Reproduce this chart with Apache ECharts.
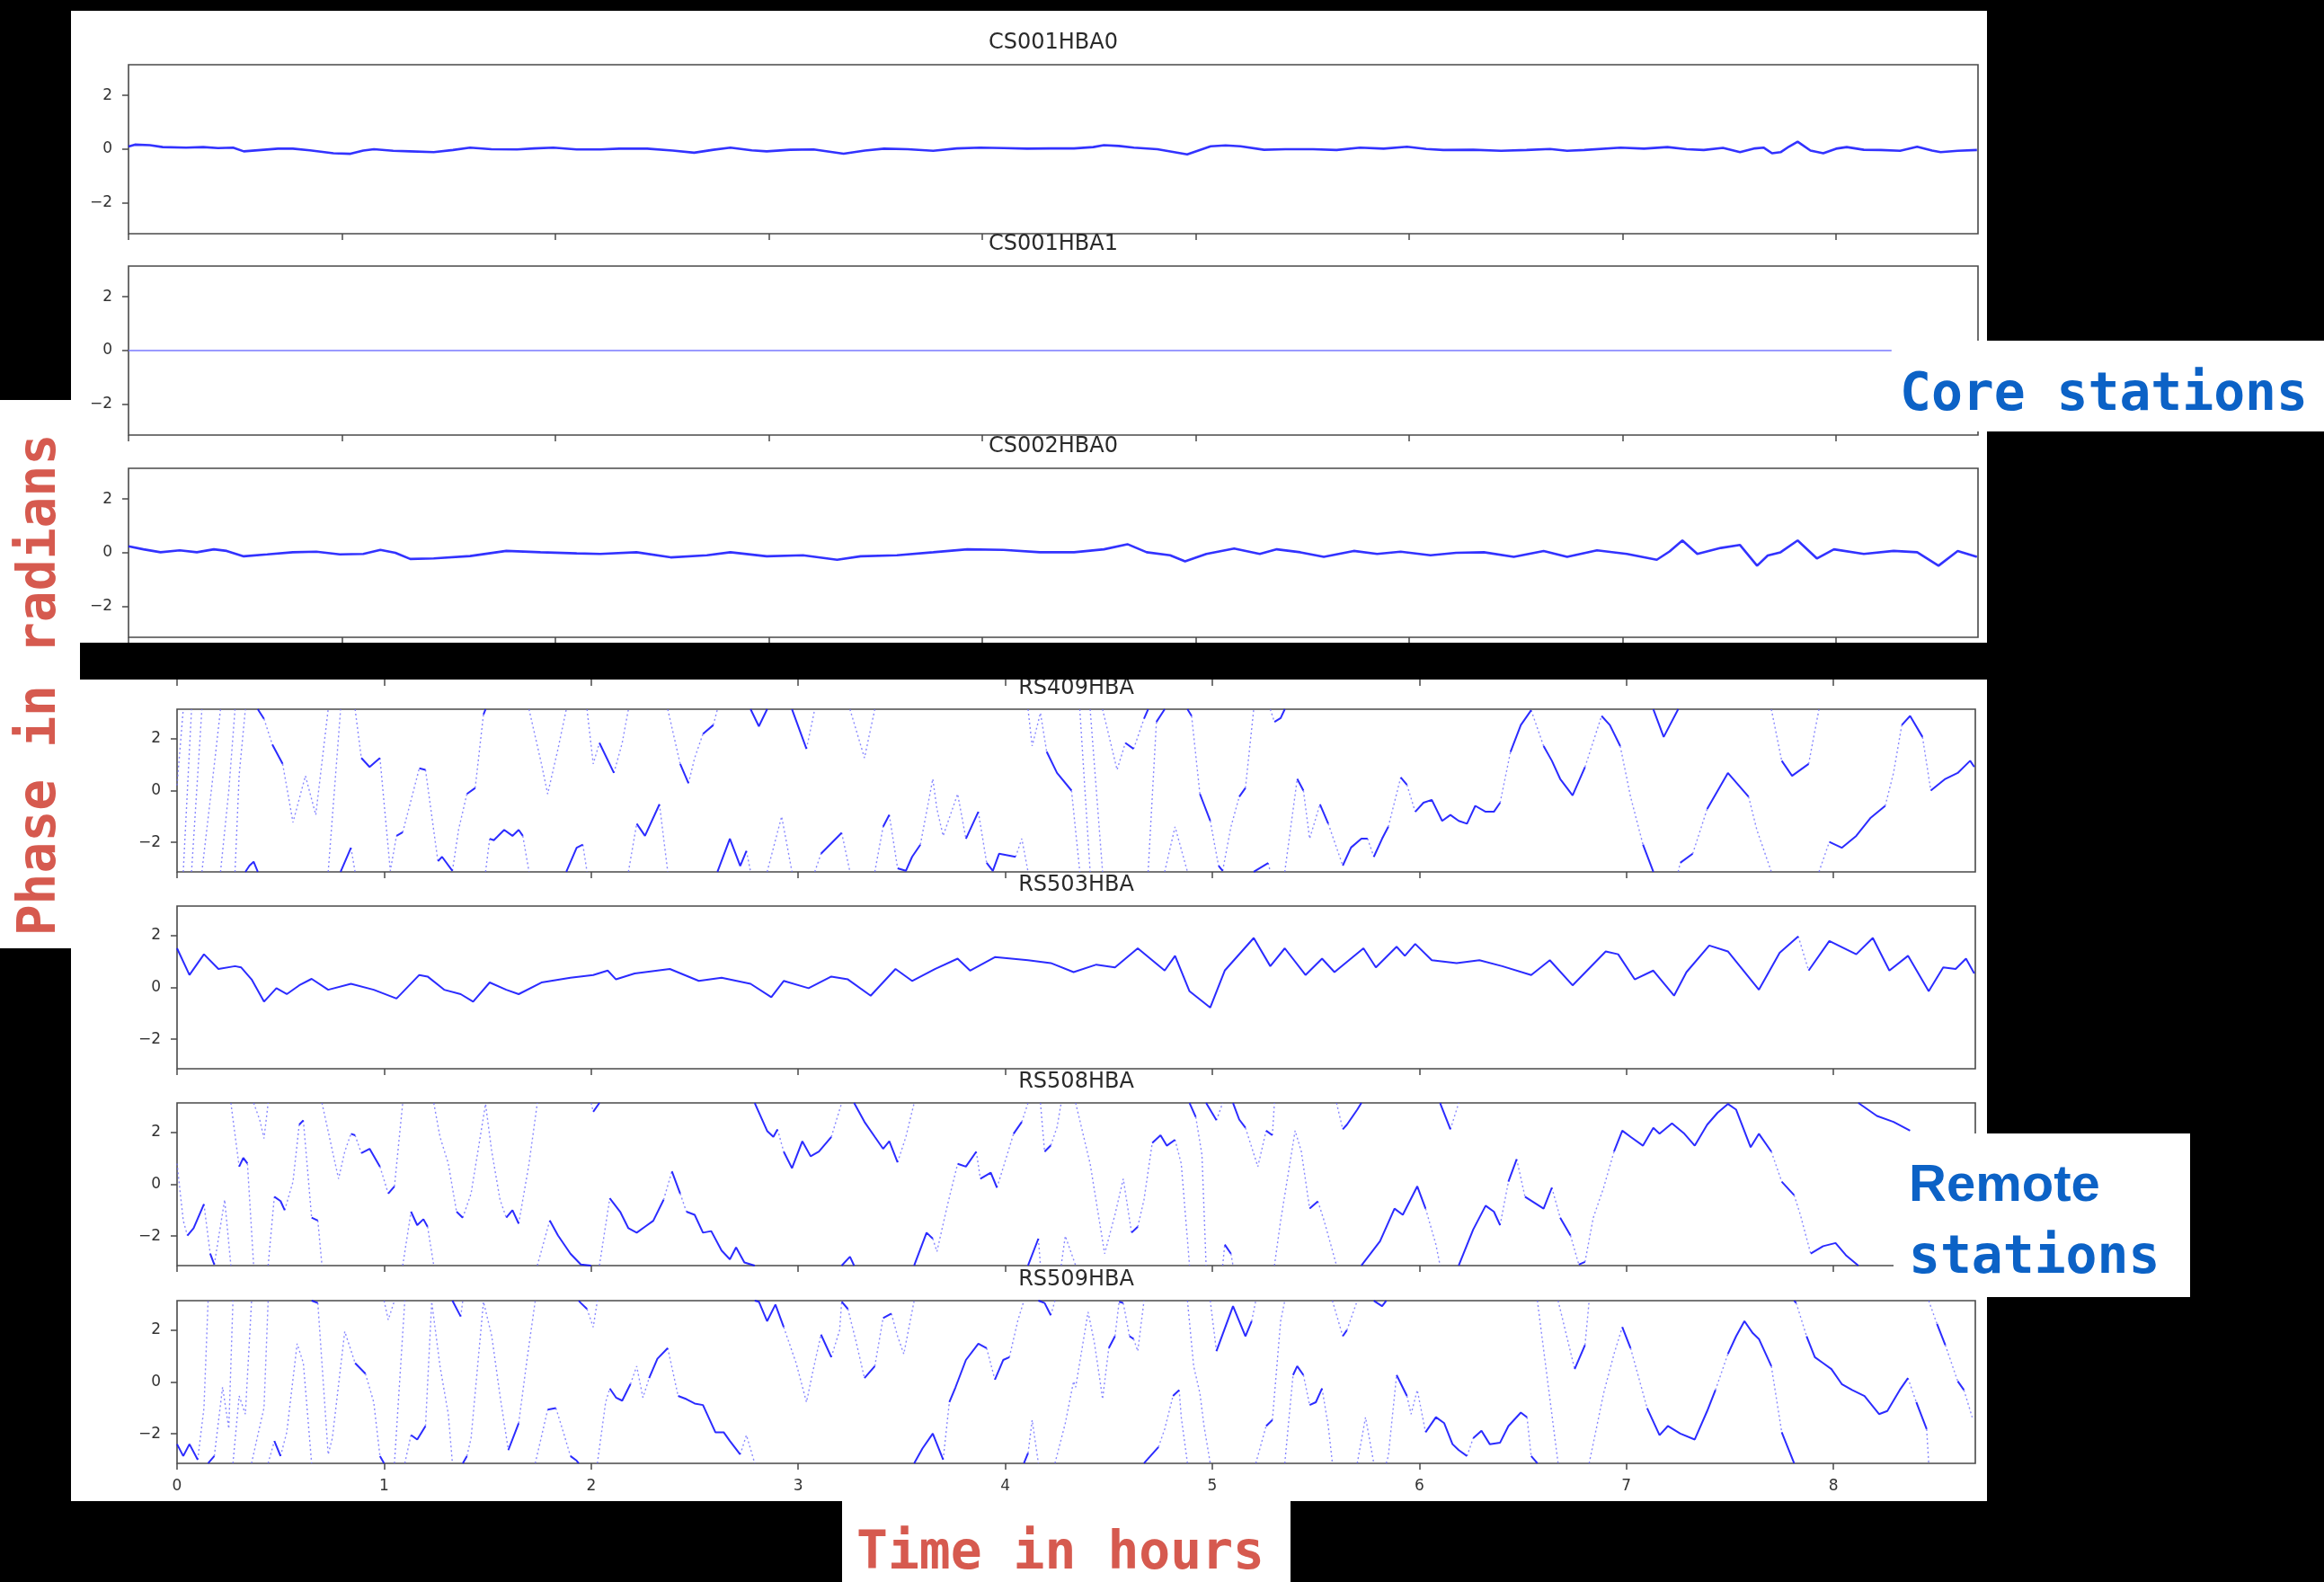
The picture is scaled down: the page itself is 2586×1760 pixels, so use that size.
<!DOCTYPE html>
<html><head><meta charset="utf-8">
<script src="https://cdn.jsdelivr.net/npm/echarts@6/dist/echarts.min.js"></script>
<style>html,body{margin:0;padding:0;background:#000}#c{width:2586px;height:1760px}</style>
</head><body><div id="c"></div>
<script>
// ---------------- DATA ----------------
const coreNames = ['CS001HBA0', 'CS001HBA1', 'CS002HBA0'];
const remoteNames = ['RS409HBA', 'RS503HBA', 'RS508HBA', 'RS509HBA'];
const yTicks = [-2, 0, 2];
const xTicks = [0, 1, 2, 3, 4, 5, 6, 7, 8];

// [time in hours, phase in radians]
const cs001hba0 = [[0,0.10],[0.03,0.17],[0.10,0.15],[0.16,0.08],[0.27,0.06],[0.35,0.08],[0.42,0.04],[0.49,0.06],[0.54,-0.08],[0.62,-0.03],[0.70,0.02],[0.77,0.02],[0.85,-0.04],[0.96,-0.15],[1.04,-0.17],[1.10,-0.05],[1.15,0.0],[1.24,-0.06],[1.32,-0.08],[1.43,-0.11],[1.52,-0.03],[1.60,0.06],[1.70,0.0],[1.82,-0.01],[1.90,0.03],[1.99,0.06],[2.10,-0.01],[2.21,-0.01],[2.30,0.02],[2.43,0.02],[2.55,-0.05],[2.65,-0.13],[2.74,-0.02],[2.82,0.06],[2.92,-0.04],[2.99,-0.08],[3.10,-0.02],[3.21,-0.01],[3.35,-0.17],[3.45,-0.05],[3.54,0.02],[3.65,0.0],[3.77,-0.06],[3.88,0.03],[3.99,0.06],[4.10,0.04],[4.21,0.02],[4.32,0.03],[4.43,0.03],[4.52,0.08],[4.57,0.15],[4.64,0.12],[4.71,0.06],[4.82,0.0],[4.96,-0.19],[5.07,0.11],[5.14,0.14],[5.21,0.11],[5.32,-0.02],[5.42,0.0],[5.55,0.0],[5.66,-0.03],[5.77,0.06],[5.88,0.02],[5.99,0.09],[6.08,0.01],[6.16,-0.03],[6.30,-0.02],[6.43,-0.06],[6.55,-0.03],[6.66,0.01],[6.74,-0.06],[6.82,-0.03],[6.99,0.06],[7.10,0.02],[7.21,0.08],[7.30,0.0],[7.38,-0.03],[7.47,0.05],[7.55,-0.11],[7.62,0.03],[7.66,0.06],[7.70,-0.15],[7.74,-0.11],[7.78,0.10],[7.82,0.28],[7.88,-0.05],[7.94,-0.15],[8.00,0.02],[8.05,0.08],[8.13,-0.02],[8.21,-0.03],[8.30,-0.06],[8.38,0.09],[8.45,-0.05],[8.49,-0.11],[8.57,-0.06],[8.66,-0.03]];

const cs001hba1 = [[0,0],[1,0],[2,0],[3,0],[4,0],[5,0],[6,0],[7,0],[8,0],[8.26,0]];

const cs002hba0 = [[0,0.24],[0.07,0.13],[0.15,0.02],[0.24,0.09],[0.32,0.02],[0.40,0.13],[0.46,0.07],[0.54,-0.13],[0.65,-0.06],[0.77,0.02],[0.88,0.04],[0.99,-0.06],[1.10,-0.04],[1.18,0.11],[1.25,0.0],[1.32,-0.23],[1.43,-0.21],[1.60,-0.12],[1.77,0.07],[1.93,0.02],[2.10,-0.02],[2.21,-0.04],[2.38,0.02],[2.54,-0.17],[2.71,-0.09],[2.82,0.02],[2.99,-0.13],[3.16,-0.09],[3.32,-0.26],[3.43,-0.13],[3.60,-0.09],[3.77,0.02],[3.93,0.13],[4.10,0.11],[4.27,0.02],[4.43,0.02],[4.57,0.13],[4.68,0.32],[4.77,0.02],[4.88,-0.09],[4.95,-0.32],[5.05,-0.04],[5.18,0.16],[5.30,-0.04],[5.38,0.13],[5.49,0.02],[5.60,-0.15],[5.74,0.07],[5.85,-0.04],[5.96,0.04],[6.10,-0.09],[6.22,0.0],[6.35,0.02],[6.49,-0.15],[6.63,0.07],[6.74,-0.15],[6.88,0.09],[7.02,-0.04],[7.16,-0.26],[7.22,0.05],[7.28,0.46],[7.35,-0.04],[7.46,0.18],[7.55,0.29],[7.63,-0.48],[7.68,-0.10],[7.74,0.02],[7.82,0.46],[7.91,-0.21],[7.99,0.13],[8.13,-0.04],[8.27,0.07],[8.38,0.02],[8.48,-0.48],[8.57,0.07],[8.66,-0.15]];

const rs409hba = [[0.00,0.2],[0.03,3.14],[0.03,-3.14],[0.07,3.14],[0.07,-3.14],[0.12,3.14],[0.12,-3.14],[0.18,1.0],[0.21,3.14],[0.21,-3.14],[0.25,0.0],[0.28,3.14],[0.28,-3.14],[0.30,0.6],[0.33,3.14],[0.33,-3.14],[0.35,-2.9],[0.37,-2.75],[0.39,-3.14],[0.39,3.14],[0.42,2.77],[0.46,1.78],[0.51,1.03],[0.56,-1.23],[0.62,0.57],[0.67,-0.94],[0.73,3.14],[0.73,-3.14],[0.79,3.14],[0.79,-3.14],[0.84,-2.21],[0.86,-3.14],[0.86,3.14],[0.89,1.26],[0.93,0.91],[0.98,1.26],[1.03,-3.1],[1.06,-1.75],[1.09,-1.61],[1.17,0.86],[1.20,0.80],[1.26,-2.73],[1.28,-2.56],[1.33,-3.1],[1.36,-1.5],[1.40,-0.13],[1.44,0.10],[1.48,2.94],[1.49,3.14],[1.49,-3.14],[1.51,-1.86],[1.53,-1.92],[1.58,-1.52],[1.62,-1.75],[1.65,-1.52],[1.67,-1.75],[1.70,-3.14],[1.70,3.14],[1.76,1.03],[1.79,-0.13],[1.84,1.61],[1.88,3.14],[1.88,-3.14],[1.93,-2.21],[1.96,-2.09],[1.98,-3.14],[1.98,3.14],[2.01,1.03],[2.04,1.84],[2.11,0.68],[2.15,1.84],[2.18,3.14],[2.18,-3.14],[2.22,-1.28],[2.26,-1.75],[2.33,-0.53],[2.37,-3.14],[2.37,3.14],[2.43,1.03],[2.47,0.28],[2.50,1.26],[2.54,2.19],[2.59,2.53],[2.61,3.14],[2.61,-3.14],[2.67,-1.86],[2.72,-2.91],[2.75,-2.33],[2.77,-3.14],[2.77,3.14],[2.81,2.48],[2.85,3.14],[2.85,-3.14],[2.92,-1.0],[2.97,-3.14],[2.97,3.14],[3.04,1.61],[3.08,3.14],[3.08,-3.14],[3.11,-2.44],[3.21,-1.63],[3.25,-3.14],[3.25,3.14],[3.32,1.26],[3.37,3.14],[3.37,-3.14],[3.41,-1.4],[3.44,-0.94],[3.48,-3.0],[3.52,-3.1],[3.55,-2.56],[3.59,-2.09],[3.65,0.45],[3.67,-0.71],[3.70,-1.75],[3.77,-0.13],[3.81,-1.86],[3.87,-0.82],[3.91,-2.79],[3.94,-3.1],[3.97,-2.44],[4.05,-2.56],[4.08,-1.86],[4.11,-3.14],[4.11,3.14],[4.13,1.72],[4.17,3.0],[4.20,1.5],[4.25,0.68],[4.32,0.0],[4.36,-3.14],[4.36,3.14],[4.41,-3.14],[4.41,3.14],[4.47,-3.14],[4.47,3.14],[4.54,0.8],[4.58,1.84],[4.62,1.61],[4.67,2.77],[4.69,3.14],[4.69,-3.14],[4.73,2.65],[4.77,3.14],[4.77,-3.14],[4.82,-1.4],[4.88,-3.14],[4.88,3.14],[4.90,2.88],[4.94,-0.13],[4.99,-1.17],[5.03,-2.9],[5.05,-3.1],[5.09,-1.4],[5.13,-0.24],[5.16,0.10],[5.20,3.14],[5.20,-3.14],[5.27,-2.8],[5.28,-3.14],[5.28,3.14],[5.30,2.65],[5.33,2.8],[5.35,3.14],[5.35,-3.14],[5.41,0.45],[5.44,0.0],[5.47,-1.86],[5.52,-0.53],[5.56,-1.28],[5.63,-2.9],[5.67,-2.2],[5.72,-1.86],[5.75,-1.86],[5.78,-2.56],[5.82,-1.86],[5.85,-1.40],[5.91,0.51],[5.94,0.22],[5.98,-0.82],[6.02,-0.47],[6.06,-0.36],[6.11,-1.17],[6.15,-0.94],[6.19,-1.17],[6.23,-1.28],[6.27,-0.59],[6.32,-0.82],[6.36,-0.82],[6.39,-0.47],[6.44,1.49],[6.49,2.53],[6.54,3.1],[6.60,1.72],[6.64,1.15],[6.68,0.45],[6.74,-0.19],[6.80,0.91],[6.88,2.88],[6.92,2.53],[6.97,1.72],[7.02,-0.24],[7.08,-2.09],[7.13,-3.14],[7.13,3.14],[7.18,2.07],[7.25,3.14],[7.25,-3.14],[7.26,-2.79],[7.32,-2.44],[7.39,-0.71],[7.49,0.68],[7.59,-0.24],[7.63,-1.52],[7.70,-3.14],[7.70,3.14],[7.75,1.15],[7.80,0.57],[7.88,1.03],[7.93,3.14],[7.93,-3.14],[7.98,-1.98],[8.04,-2.21],[8.11,-1.75],[8.18,-1.05],[8.25,-0.59],[8.29,0.68],[8.33,2.53],[8.37,2.88],[8.43,2.07],[8.47,0.0],[8.54,0.45],[8.60,0.68],[8.66,1.15],[8.68,0.91]];

const rs503hba = [[0,1.51],[0.06,0.48],[0.13,1.28],[0.20,0.71],[0.28,0.82],[0.31,0.77],[0.36,0.31],[0.42,-0.55],[0.48,-0.03],[0.53,-0.26],[0.59,0.08],[0.65,0.33],[0.73,-0.09],[0.84,0.14],[0.95,-0.09],[1.06,-0.43],[1.17,0.48],[1.21,0.42],[1.29,-0.09],[1.37,-0.26],[1.43,-0.55],[1.51,0.19],[1.59,-0.09],[1.65,-0.26],[1.76,0.19],[1.90,0.37],[2.01,0.48],[2.08,0.65],[2.12,0.31],[2.21,0.54],[2.38,0.71],[2.52,0.25],[2.63,0.37],[2.77,0.14],[2.87,-0.38],[2.93,0.25],[3.05,-0.03],[3.16,0.42],[3.24,0.31],[3.35,-0.32],[3.47,0.71],[3.55,0.25],[3.66,0.71],[3.77,1.11],[3.83,0.65],[3.95,1.17],[4.11,1.05],[4.22,0.94],[4.33,0.59],[4.44,0.88],[4.53,0.77],[4.64,1.51],[4.77,0.65],[4.82,1.22],[4.89,-0.15],[4.99,-0.78],[5.06,0.65],[5.20,1.91],[5.28,0.82],[5.35,1.51],[5.45,0.48],[5.53,1.11],[5.59,0.59],[5.73,1.51],[5.79,0.77],[5.89,1.57],[5.93,1.22],[5.98,1.68],[6.06,1.05],[6.18,0.94],[6.29,1.05],[6.40,0.82],[6.54,0.48],[6.63,1.05],[6.74,0.08],[6.90,1.39],[6.96,1.28],[7.04,0.31],[7.13,0.65],[7.23,-0.32],[7.29,0.59],[7.40,1.62],[7.49,1.39],[7.64,-0.09],[7.74,1.34],[7.83,1.97],[7.88,0.65],[7.98,1.79],[8.11,1.28],[8.19,1.91],[8.27,0.65],[8.36,1.22],[8.46,-0.15],[8.53,0.77],[8.59,0.71],[8.64,1.11],[8.68,0.54]];

const rs508hba = [[0.00,0.8],[0.03,-1.4],[0.05,-1.98],[0.08,-1.7],[0.13,-0.77],[0.16,-2.68],[0.18,-3.1],[0.23,-0.6],[0.26,-3.14],[0.26,3.14],[0.30,0.68],[0.32,1.02],[0.34,0.8],[0.37,-3.14],[0.37,3.14],[0.40,2.47],[0.42,1.77],[0.44,3.14],[0.44,-3.14],[0.47,-0.48],[0.50,-0.65],[0.52,-1.0],[0.56,0.1],[0.59,2.3],[0.61,2.47],[0.65,-1.29],[0.68,-1.4],[0.70,-3.14],[0.70,3.14],[0.78,0.21],[0.81,1.26],[0.84,1.95],[0.86,1.89],[0.89,1.2],[0.93,1.37],[0.98,0.68],[1.02,-0.36],[1.05,-0.08],[1.09,3.14],[1.09,-3.14],[1.13,-1.06],[1.16,-1.58],[1.19,-1.35],[1.21,-1.64],[1.24,-3.14],[1.24,3.14],[1.27,1.83],[1.31,0.8],[1.35,-1.06],[1.38,-1.29],[1.42,-0.36],[1.49,3.1],[1.52,1.26],[1.56,-0.6],[1.59,-1.29],[1.62,-1.0],[1.65,-1.52],[1.70,0.79],[1.74,3.14],[1.74,-3.14],[1.80,-1.4],[1.84,-1.98],[1.90,-2.68],[1.95,-3.1],[2.00,-3.14],[2.00,3.14],[2.01,2.8],[2.04,3.14],[2.04,-3.14],[2.09,-0.54],[2.14,-1.06],[2.18,-1.7],[2.22,-1.87],[2.26,-1.64],[2.30,-1.41],[2.35,-0.6],[2.39,0.5],[2.43,-0.36],[2.46,-1.06],[2.50,-1.18],[2.54,-1.87],[2.58,-1.81],[2.63,-2.56],[2.67,-2.9],[2.70,-2.44],[2.74,-3.02],[2.79,-3.14],[2.79,3.14],[2.85,2.06],[2.88,1.83],[2.90,2.12],[2.93,1.26],[2.97,0.62],[3.02,1.66],[3.06,1.08],[3.10,1.26],[3.16,1.83],[3.21,3.14],[3.21,-3.14],[3.25,-2.8],[3.27,-3.14],[3.27,3.14],[3.32,2.41],[3.37,1.83],[3.41,1.37],[3.44,1.66],[3.48,0.85],[3.52,1.83],[3.56,3.14],[3.56,-3.14],[3.62,-1.87],[3.65,-2.1],[3.67,-2.6],[3.72,-0.83],[3.77,0.79],[3.81,0.68],[3.86,1.26],[3.88,0.21],[3.93,0.45],[3.96,-0.13],[4.00,0.9],[4.04,1.95],[4.08,2.41],[4.11,3.14],[4.11,-3.14],[4.16,-2.1],[4.17,-3.14],[4.17,3.14],[4.19,1.26],[4.22,1.5],[4.25,2.2],[4.27,3.14],[4.27,-3.14],[4.29,-2.0],[4.34,-3.14],[4.34,3.14],[4.41,0.79],[4.48,-2.68],[4.53,-1.17],[4.57,0.21],[4.61,-1.87],[4.64,-1.64],[4.67,-0.6],[4.71,1.6],[4.75,1.89],[4.78,1.49],[4.82,1.72],[4.85,0.79],[4.89,-3.14],[4.89,3.14],[4.92,2.6],[4.95,1.14],[4.97,-3.14],[4.97,3.14],[5.02,2.47],[5.05,3.14],[5.05,-3.14],[5.06,-2.33],[5.09,-2.68],[5.10,-3.14],[5.10,3.14],[5.13,2.5],[5.16,2.18],[5.22,0.68],[5.26,2.07],[5.29,1.89],[5.30,3.14],[5.30,-3.14],[5.33,-1.41],[5.40,2.07],[5.43,1.26],[5.47,-0.94],[5.51,-0.66],[5.54,-1.41],[5.58,-2.56],[5.60,-3.14],[5.60,3.14],[5.63,2.12],[5.65,2.3],[5.70,2.88],[5.72,3.14],[5.72,-3.14],[5.81,-2.2],[5.88,-0.94],[5.92,-1.18],[5.99,-0.08],[6.03,-0.94],[6.08,-2.33],[6.10,-3.14],[6.10,3.14],[6.15,2.12],[6.19,3.14],[6.19,-3.14],[6.26,-1.75],[6.32,-0.83],[6.36,-1.06],[6.39,-1.58],[6.43,0.1],[6.47,0.97],[6.51,-0.48],[6.60,-0.94],[6.64,-0.13],[6.68,-1.29],[6.73,-1.98],[6.77,-3.1],[6.80,-3.0],[6.84,-1.29],[6.89,-0.13],[6.94,1.26],[6.98,2.07],[7.02,1.83],[7.08,1.49],[7.13,2.18],[7.16,1.95],[7.22,2.35],[7.28,1.95],[7.33,1.49],[7.39,2.3],[7.44,2.76],[7.49,3.1],[7.53,2.88],[7.60,1.43],[7.64,1.95],[7.70,1.26],[7.75,0.1],[7.81,-0.42],[7.84,-1.18],[7.89,-2.68],[7.95,-2.39],[8.01,-2.27],[8.06,-2.74],[8.12,-3.14],[8.12,3.14],[8.21,2.64],[8.29,2.41],[8.37,2.07]];

const rs509hba = [[0.00,-2.4],[0.03,-2.86],[0.06,-2.4],[0.10,-3.0],[0.13,-1.0],[0.15,3.14],[0.15,-3.14],[0.18,-2.86],[0.22,-0.2],[0.25,-1.8],[0.27,3.14],[0.27,-3.14],[0.30,-0.54],[0.33,-1.24],[0.36,3.14],[0.36,-3.14],[0.39,-2.05],[0.42,-1.0],[0.44,3.14],[0.44,-3.14],[0.47,-2.28],[0.50,-2.86],[0.53,-1.94],[0.58,1.48],[0.61,0.73],[0.65,-3.14],[0.65,3.14],[0.68,3.05],[0.73,-2.8],[0.75,-2.17],[0.81,1.95],[0.86,0.73],[0.91,0.32],[0.95,-0.78],[0.98,-2.86],[1.00,-3.14],[1.00,3.14],[1.02,2.4],[1.05,3.14],[1.05,-3.14],[1.10,3.14],[1.10,-3.14],[1.13,-2.05],[1.16,-2.22],[1.20,-1.7],[1.23,3.1],[1.27,0.61],[1.31,-1.24],[1.33,-3.14],[1.33,3.14],[1.37,2.53],[1.38,3.14],[1.38,-3.14],[1.40,-2.86],[1.42,-2.17],[1.48,3.1],[1.52,1.77],[1.56,-0.54],[1.60,-2.63],[1.65,-1.59],[1.69,0.85],[1.73,3.14],[1.73,-3.14],[1.79,-1.07],[1.83,-1.01],[1.87,-2.05],[1.90,-2.86],[1.93,-3.04],[1.94,-3.14],[1.94,3.14],[1.95,3.05],[1.98,2.82],[2.01,2.12],[2.03,3.14],[2.03,-3.14],[2.07,-0.78],[2.09,-0.25],[2.12,-0.6],[2.15,-0.72],[2.19,-0.08],[2.22,0.61],[2.25,-0.6],[2.28,0.15],[2.32,0.9],[2.37,1.31],[2.42,-0.54],[2.46,-0.66],[2.50,-0.83],[2.54,-0.89],[2.60,-1.94],[2.64,-1.94],[2.67,-2.28],[2.72,-2.8],[2.75,-2.05],[2.79,-3.14],[2.79,3.14],[2.81,3.1],[2.85,2.35],[2.89,2.99],[2.93,2.12],[2.99,0.73],[3.04,-0.78],[3.07,0.38],[3.11,1.83],[3.16,0.96],[3.20,2.0],[3.21,3.1],[3.24,2.82],[3.28,1.54],[3.32,0.15],[3.37,0.61],[3.41,2.47],[3.45,2.64],[3.48,1.77],[3.51,1.08],[3.56,3.14],[3.56,-3.14],[3.60,-2.57],[3.65,-1.99],[3.70,-3.0],[3.73,-0.78],[3.76,-0.2],[3.81,0.85],[3.87,1.48],[3.91,1.31],[3.95,0.09],[3.99,0.85],[4.02,0.96],[4.06,2.35],[4.09,3.14],[4.09,-3.14],[4.11,-2.75],[4.13,-1.47],[4.16,-3.14],[4.16,3.14],[4.19,3.05],[4.22,2.58],[4.24,3.14],[4.24,-3.14],[4.29,-1.59],[4.33,0.03],[4.34,-0.2],[4.40,2.7],[4.43,1.54],[4.46,-0.08],[4.47,-0.66],[4.50,1.31],[4.53,1.77],[4.55,3.1],[4.57,3.05],[4.60,1.77],[4.62,1.66],[4.64,1.19],[4.67,3.14],[4.67,-3.14],[4.74,-2.51],[4.77,-1.82],[4.81,-0.54],[4.84,-0.31],[4.85,-1.36],[4.88,-3.14],[4.88,3.14],[4.91,0.61],[4.94,-0.43],[4.96,-1.7],[4.99,-3.14],[4.99,3.14],[5.02,1.19],[5.10,2.93],[5.16,1.77],[5.19,2.35],[5.21,3.14],[5.21,-3.14],[5.26,-1.7],[5.29,-1.47],[5.33,2.35],[5.35,3.14],[5.35,-3.14],[5.39,0.27],[5.41,0.61],[5.44,0.27],[5.47,-0.89],[5.50,-0.78],[5.53,-0.25],[5.56,-1.7],[5.58,-3.14],[5.58,3.14],[5.63,1.77],[5.65,2.0],[5.70,3.14],[5.70,-3.14],[5.74,-1.36],[5.78,-3.14],[5.78,3.14],[5.82,2.93],[5.84,3.14],[5.84,-3.14],[5.85,-2.86],[5.89,0.27],[5.94,-0.54],[5.96,-1.24],[5.99,-0.31],[6.03,-1.94],[6.08,-1.36],[6.12,-1.59],[6.16,-2.4],[6.19,-2.63],[6.23,-2.86],[6.26,-2.17],[6.30,-1.88],[6.34,-2.4],[6.39,-2.34],[6.43,-1.7],[6.49,-1.18],[6.52,-1.36],[6.54,-2.86],[6.57,-3.14],[6.57,3.14],[6.62,0.0],[6.67,-3.14],[6.67,3.14],[6.75,0.5],[6.80,1.43],[6.82,3.14],[6.82,-3.14],[6.89,-0.43],[6.94,1.08],[6.98,2.12],[7.02,1.31],[7.06,0.15],[7.10,-1.01],[7.16,-2.05],[7.20,-1.7],[7.26,-1.99],[7.33,-2.22],[7.39,-1.12],[7.43,-0.31],[7.49,1.08],[7.53,1.77],[7.57,2.35],[7.61,1.89],[7.64,1.66],[7.70,0.61],[7.75,-1.94],[7.81,-3.14],[7.81,3.14],[7.82,3.05],[7.87,1.77],[7.91,0.96],[7.95,0.73],[7.99,0.5],[8.04,-0.08],[8.09,-0.31],[8.15,-0.54],[8.22,-1.24],[8.26,-1.12],[8.32,-0.31],[8.36,0.15],[8.40,-0.78],[8.45,-1.82],[8.46,-3.14],[8.46,3.14],[8.50,2.24],[8.54,1.43],[8.60,0.03],[8.63,-0.31],[8.67,-1.36]];

const labelPhase = 'Phase in radians';
const labelTime = 'Time in hours';
const labelCore = 'Core stations';
const labelRemote1 = 'Remote';
const labelRemote2 = 'stations';

// ---------------- LAYOUT ----------------
const PI_LIM = 3.1416;
const topGrid = { left: 143, width: 2058, tops: [72, 296, 521], height: 188, xMax: 8.665 };
const botGrid = { left: 197, width: 2001, tops: [789, 1008, 1227, 1447], height: 181, xMax: 8.685 };
const frameColor = '#4a4a4a';
const tickFont = { fontFamily: 'DejaVu Sans', fontSize: 17, color: '#333' };

// split a wrapped-phase trace into slowly varying parts and fast (sparse-dot) parts;
// wraps (same time, jump of ~2π) break the line.
function splitTrace(pts, thr) {
  const slow = [], fast = [];
  let lastS = -1, lastF = -1;
  for (let i = 0; i < pts.length - 1; i++) {
    const a = pts[i], b = pts[i + 1];
    const dv = b[1] - a[1], dt = b[0] - a[0];
    if (dt < 1e-6 && Math.abs(dv) > 5) continue;
    const steep = Math.abs(dv) > thr * Math.max(dt, 1e-9);
    if (steep) {
      if (lastF !== i) { if (fast.length) fast.push([a[0], '-']); fast.push(a); }
      fast.push(b); lastF = i + 1;
    } else {
      if (lastS !== i) { if (slow.length) slow.push([a[0], '-']); slow.push(a); }
      slow.push(b); lastS = i + 1;
    }
  }
  return { slow, fast };
}

const minus = v => (v < 0 ? '\u2212' + Math.abs(v) : String(v));

const grids = [], xAxes = [], yAxes = [], series = [];
function addPanel(left, top, width, height, xMax, showXLabels) {
  const idx = grids.length;
  grids.push({ left, top, width, height, show: true, borderColor: frameColor, borderWidth: 1.6, backgroundColor: 'transparent', containLabel: false });
  xAxes.push({
    gridIndex: idx, type: 'value', min: 0, max: xMax, position: 'bottom',
    axisLine: { show: false, onZero: false },
    axisTick: { show: true, length: 7, customValues: xTicks, lineStyle: { color: frameColor, width: 1.5 } },
    axisLabel: { show: showXLabels, customValues: xTicks, margin: 17, ...tickFont },
    splitLine: { show: false }
  });
  yAxes.push({
    gridIndex: idx, type: 'value', min: -PI_LIM, max: PI_LIM, position: 'left',
    axisLine: { show: false, onZero: false },
    axisTick: { show: true, length: 7, customValues: yTicks, lineStyle: { color: frameColor, width: 1.5 } },
    axisLabel: { show: true, customValues: yTicks, margin: 18, formatter: minus, ...tickFont },
    splitLine: { show: false }
  });
  return idx;
}

const coreData = [cs001hba0, cs001hba1, cs002hba0];
coreNames.forEach((n, i) => {
  const g = addPanel(topGrid.left, topGrid.tops[i], topGrid.width, topGrid.height, topGrid.xMax, false);
  series.push({
    type: 'line', name: n, xAxisIndex: g, yAxisIndex: g, data: coreData[i], showSymbol: false,
    lineStyle: i === 1 ? { color: '#7a7aff', width: 1.6 } : { color: '#1c1cff', width: 2.6, opacity: 0.9 },
    z: 3, silent: true
  });
});

const remoteData = [rs409hba, rs503hba, rs508hba, rs509hba];
remoteNames.forEach((n, i) => {
  const g = addPanel(botGrid.left, botGrid.tops[i], botGrid.width, botGrid.height, botGrid.xMax, i === remoteNames.length - 1);
  const sp = splitTrace(remoteData[i], 22);
  series.push({
    type: 'line', name: n + ' fast', xAxisIndex: g, yAxisIndex: g, data: sp.fast, showSymbol: false, connectNulls: false,
    lineStyle: { color: '#6b6bff', width: 1.4, type: [2, 3], opacity: 0.8 }, z: 3, silent: true
  });
  series.push({
    type: 'line', name: n, xAxisIndex: g, yAxisIndex: g, data: sp.slow, showSymbol: false, connectNulls: false,
    lineStyle: { color: '#1414ff', width: 2.0, opacity: 0.9 }, z: 4, silent: true
  });
});

// ticks of the cropped-away subplot just below the black bar
(function () {
  const idx = grids.length;
  grids.push({ left: botGrid.left, top: 750, width: botGrid.width, height: 6, show: false });
  xAxes.push({ gridIndex: idx, type: 'value', min: 0, max: botGrid.xMax, position: 'bottom', axisLine: { show: false, onZero: false },
    axisTick: { show: true, length: 7, customValues: xTicks, lineStyle: { color: frameColor, width: 1.5 } },
    axisLabel: { show: false }, splitLine: { show: false } });
  yAxes.push({ gridIndex: idx, type: 'value', show: false });
})();

const titleFont = '24px "DejaVu Sans"';
const graphics = [
  { type: 'rect', z: -10, shape: { x: 79, y: 12, width: 2132, height: 1658 }, style: { fill: '#fff' }, silent: true },
];
coreNames.forEach((n, i) => graphics.push({ type: 'text', z: 5, x: topGrid.left + topGrid.width / 2, y: topGrid.tops[i] - 24,
  style: { text: n, font: titleFont, fill: '#2a2a2a', textAlign: 'center', textVerticalAlign: 'middle', align: 'center', verticalAlign: 'middle' } }));
remoteNames.forEach((n, i) => graphics.push({ type: 'text', z: 5, x: botGrid.left + botGrid.width / 2, y: botGrid.tops[i] - 23,
  style: { text: n, font: titleFont, fill: '#2a2a2a', textAlign: 'center', textVerticalAlign: 'middle', align: 'center', verticalAlign: 'middle' } }));

const monoBold = 'bold 58px "DejaVu Sans Mono"';
const red = '#d65a4f', blue = '#0c62c6';
graphics.push(
  { type: 'rect', z: 100, shape: { x: 89, y: 715, width: 2122, height: 41 }, style: { fill: '#000' }, silent: true },
  { type: 'rect', z: 100, shape: { x: 0, y: 445, width: 80, height: 610 }, style: { fill: '#fff' }, silent: true },
  { type: 'text', z: 101, x: 46, y: 762, rotation: Math.PI / 2,
    style: { text: labelPhase, font: monoBold, fill: red, textAlign: 'center', textVerticalAlign: 'middle', align: 'center', verticalAlign: 'middle' } },
  { type: 'rect', z: 100, shape: { x: 937, y: 1670, width: 499, height: 90 }, style: { fill: '#fff' }, silent: true },
  { type: 'text', z: 101, x: 1180, y: 1730,
    style: { text: labelTime, font: monoBold, fill: red, textAlign: 'center', textVerticalAlign: 'middle', align: 'center', verticalAlign: 'middle' } },
  { type: 'rect', z: 100, shape: { x: 2105, y: 379, width: 481, height: 101 }, style: { fill: '#fff' }, silent: true },
  { type: 'text', z: 101, x: 2114, y: 441,
    style: { text: labelCore, font: monoBold, fill: blue, textAlign: 'left', textVerticalAlign: 'middle', align: 'left', verticalAlign: 'middle' } },
  { type: 'rect', z: 100, shape: { x: 2107, y: 1261, width: 330, height: 182 }, style: { fill: '#fff' }, silent: true },
  { type: 'text', z: 101, x: 2124, y: 1320,
    style: { text: labelRemote1, font: 'bold 58px "Liberation Sans"', fill: blue, textAlign: 'left', textVerticalAlign: 'middle', align: 'left', verticalAlign: 'middle' } },
  { type: 'text', z: 101, x: 2124, y: 1401,
    style: { text: labelRemote2, font: monoBold, fill: blue, textAlign: 'left', textVerticalAlign: 'middle', align: 'left', verticalAlign: 'middle' } }
);

const chart = echarts.init(document.getElementById('c'), null, { renderer: 'canvas' });
chart.setOption({
  backgroundColor: '#000',
  animation: false,
  grid: grids,
  xAxis: xAxes,
  yAxis: yAxes,
  series: series,
  graphic: { elements: graphics }
});
</script>
</body></html>
